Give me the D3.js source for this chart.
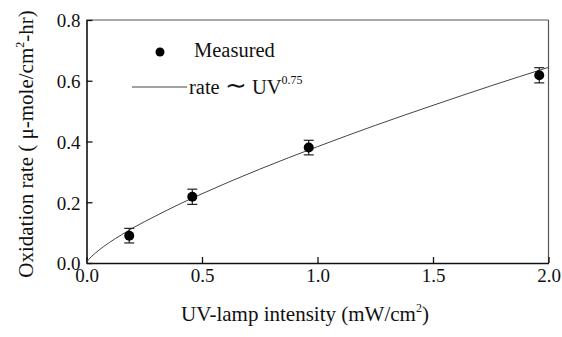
<!DOCTYPE html>
<html>
<head>
<meta charset="utf-8">
<script src="https://cdn.jsdelivr.net/npm/d3@7"></script>
<style>
  html, body { margin: 0; padding: 0; background: #fff; }
</style>
</head>
<body>
<svg id="chart" width="562" height="337"></svg>
<script>
// Measured points
const measuredX = [0.185, 0.458, 0.962, 1.96];
const measuredY = [0.090, 0.218, 0.380, 0.618];
const measuredErr = [0.024, 0.025, 0.024, 0.025];

// Fitted curve (rate ~ UV^0.75)
const fitX = [0, 0.01, 0.02, 0.05, 0.1, 0.15, 0.2, 0.3, 0.4, 0.5, 0.75, 1.0, 1.25, 1.5, 1.75, 2.0];
const fitY = [0, 0.012, 0.020, 0.040, 0.068, 0.092, 0.115, 0.155, 0.193, 0.228, 0.309, 0.383, 0.453, 0.519, 0.583, 0.644];

const xTicks = [0, 0.5, 1.0, 1.5, 2.0];
const yTicks = [0, 0.2, 0.4, 0.6, 0.8];

const FONT = "'Liberation Serif'";
const svg = d3.select("#chart");
const L = 86.5, R = 548.5, T = 20, B = 263;

const x = d3.scaleLinear().domain([0, 2]).range([L, R]);
const y = d3.scaleLinear().domain([0, 0.8]).range([B, T]);

// Frame (top and right)
svg.append("line").attr("x1", L).attr("x2", R).attr("y1", T).attr("y2", T)
  .attr("stroke", "#555").attr("stroke-width", 1.2);
svg.append("line").attr("x1", R).attr("x2", R).attr("y1", T).attr("y2", B)
  .attr("stroke", "#555").attr("stroke-width", 1.2);

// Axes
const xAxis = svg.append("g").attr("transform", `translate(0,${B})`)
  .call(d3.axisBottom(x).tickValues(xTicks).tickFormat(d3.format(".1f")).tickSizeInner(-6).tickSizeOuter(0).tickPadding(6));
const yAxis = svg.append("g").attr("transform", `translate(${L},0)`)
  .call(d3.axisLeft(y).tickValues(yTicks).tickFormat(d3.format(".1f")).tickSizeInner(-6).tickSizeOuter(0).tickPadding(6));

[xAxis, yAxis].forEach(g => {
  g.attr("font-family", null).attr("font-size", null);
  g.select(".domain").attr("stroke", "#111").attr("stroke-width", 1.6);
  g.selectAll(".tick line").attr("stroke", "#111").attr("stroke-width", 1.3);
  g.selectAll(".tick text").attr("fill", "#111")
    .style("font-family", FONT).style("font-size", "19px");
});
yAxis.selectAll(".tick text").attr("dy", "0.36em");

// Fitted curve
const line = d3.line().x((d, i) => x(fitX[i])).y(d => y(d)).curve(d3.curveMonotoneX);
svg.append("path").datum(fitY).attr("d", line)
  .attr("fill", "none").attr("stroke", "#444").attr("stroke-width", 1);

// Error bars
const eb = svg.append("g").attr("stroke", "#222").attr("stroke-width", 1.2);
measuredX.forEach((mx, i) => {
  const cx = x(mx), y1 = y(measuredY[i] + measuredErr[i]), y2 = y(measuredY[i] - measuredErr[i]);
  eb.append("line").attr("x1", cx).attr("x2", cx).attr("y1", y1).attr("y2", y2);
  eb.append("line").attr("x1", cx - 5).attr("x2", cx + 5).attr("y1", y1).attr("y2", y1);
  eb.append("line").attr("x1", cx - 5).attr("x2", cx + 5).attr("y1", y2).attr("y2", y2);
});

// Points
svg.append("g").selectAll("circle").data(measuredY).join("circle")
  .attr("cx", (d, i) => x(measuredX[i])).attr("cy", d => y(d))
  .attr("r", 5).attr("fill", "#000");

// Legend
svg.append("circle").attr("cx", 160).attr("cy", 52).attr("r", 4.5).attr("fill", "#000");
svg.append("text").attr("x", 194).attr("y", 57).style("font-family", FONT).style("font-size", "20.5px")
  .attr("fill", "#111").text("Measured");
svg.append("line").attr("x1", 132).attr("x2", 187).attr("y1", 87).attr("y2", 87)
  .attr("stroke", "#444").attr("stroke-width", 1);
const lt = svg.append("text").attr("x", 189).attr("y", 94).style("font-family", FONT).style("font-size", "20.5px").attr("fill", "#111");
lt.append("tspan").text("rate ");
lt.append("tspan").style("font-size", "26px").text("∼");
lt.append("tspan").text(" UV");
lt.append("tspan").style("font-size", "12px").attr("dy", -10).text("0.75");

// X axis title
const xt = svg.append("text").attr("x", 305).attr("y", 321).attr("text-anchor", "middle")
  .style("font-family", FONT).style("font-size", "21px").attr("fill", "#111");
xt.append("tspan").text("UV-lamp intensity (mW/cm");
xt.append("tspan").style("font-size", "12px").attr("dy", -9).text("2");
xt.append("tspan").attr("dy", 9).text(")");

// Y axis title
const yt = svg.append("text").attr("transform", "translate(33,144) rotate(-90)").attr("text-anchor", "middle")
  .style("font-family", FONT).style("font-size", "21px").attr("fill", "#111");
yt.append("tspan").text("Oxidation rate ( μ-mole/cm");
yt.append("tspan").style("font-size", "12px").attr("dy", -9).text("2");
yt.append("tspan").attr("dy", 9).text("-hr)");
</script>
</body>
</html>
